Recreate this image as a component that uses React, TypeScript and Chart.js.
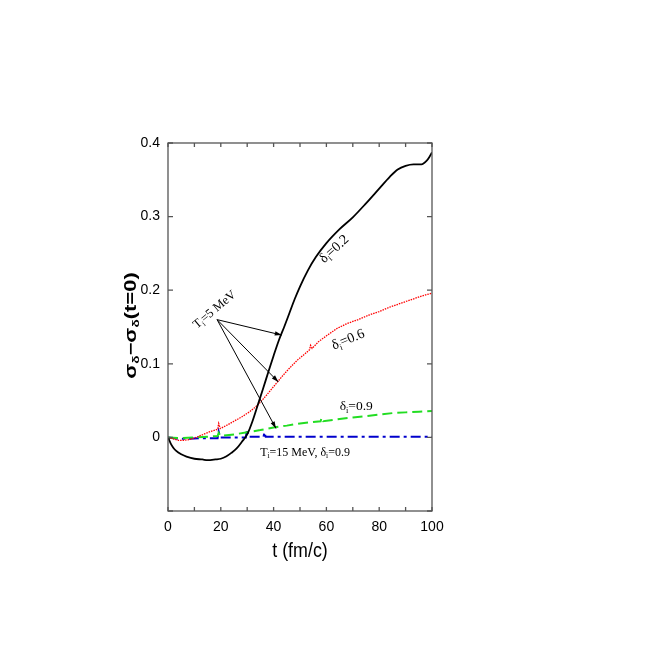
import React, { useEffect, useRef } from 'react';
import { Chart, registerables } from 'chart.js';
Chart.register(...registerables);

// delta_i = 0.2, T_i = 5 MeV (black, solid)
const tBlack = [0, 1, 2, 3, 5, 7, 10, 13, 15, 18, 20, 22, 24, 26, 28, 30, 32, 34, 36, 38, 40, 42, 44, 46, 48, 50, 53, 56, 60, 65, 70, 75, 80, 84, 87, 90, 93, 96, 98, 99, 100];
const yBlack = [0, -0.008, -0.014, -0.018, -0.023, -0.026, -0.029, -0.030, -0.031, -0.030, -0.029, -0.026, -0.021, -0.015, -0.006, 0.004, 0.022, 0.044, 0.066, 0.089, 0.111, 0.132, 0.150, 0.169, 0.188, 0.205, 0.227, 0.245, 0.264, 0.283, 0.299, 0.318, 0.338, 0.354, 0.364, 0.369, 0.371, 0.371, 0.376, 0.381, 0.387];

// delta_i = 0.6, T_i = 5 MeV (red, dotted)
const tRed = [0, 2, 4, 6, 8, 10, 12, 14, 16, 18, 18.8, 19.2, 19.8, 22, 25, 28, 31, 34, 37, 40, 43, 46, 49, 52, 53.6, 54, 54.6, 57, 60, 64, 68, 72, 76, 80, 84, 88, 92, 96, 100];
const yRed = [0, -0.002, -0.004, -0.004, -0.003, -0.001, 0.002, 0.005, 0.008, 0.010, 0.011, 0.019, 0.012, 0.016, 0.022, 0.028, 0.035, 0.044, 0.056, 0.069, 0.082, 0.094, 0.105, 0.114, 0.119, 0.125, 0.121, 0.130, 0.138, 0.148, 0.155, 0.160, 0.166, 0.171, 0.177, 0.182, 0.187, 0.192, 0.196];

// delta_i = 0.9, T_i = 5 MeV (green, dashed)
const tGreen = [0, 5, 10, 15, 18.8, 19.2, 19.8, 25, 30, 35, 40, 45, 50, 55, 57.8, 58.2, 58.8, 65, 70, 75, 80, 85, 90, 95, 100];
const yGreen = [0, -0.001, 0, 0.001, 0.002, 0.006, 0.002, 0.004, 0.007, 0.010, 0.0135, 0.016, 0.019, 0.021, 0.022, 0.027, 0.022, 0.025, 0.027, 0.029, 0.031, 0.033, 0.034, 0.035, 0.036];

// T_i = 15 MeV, delta_i = 0.9 (blue, dash-dot)
const tBlue = [0, 4, 8, 12, 18.8, 19.2, 19.8, 25, 29.5, 29.9, 30.5, 36.2, 36.5, 37.0, 50, 60, 70, 80, 90, 100];
const yBlue = [0, -0.002, -0.002, -0.001, -0.001, 0.008, 0.000, 0.000, 0.000, 0.011, 0.001, 0.001, 0.007, 0.001, 0.001, 0.001, 0.001, 0.001, 0.001, 0.001];

const xMin = 0, xMax = 100, xStep = 20;
const yMin = -0.1, yMax = 0.4, yStep = 0.1;

type Seg = { t: string; sub?: boolean };

function drawRich(ctx: CanvasRenderingContext2D, x: number, y: number, angle: number, segs: Seg[], family: string, size: number, weight = 'normal', sx = 1, sy = 1) {
  ctx.save();
  ctx.translate(x, y);
  ctx.rotate(angle);
  ctx.scale(sx, sy);
  const subSize = size * 0.62;
  let w = 0;
  const widths: number[] = [];
  for (const s of segs) {
    ctx.font = `${weight} ${s.sub ? subSize : size}px ${family}`;
    const m = ctx.measureText(s.t).width;
    widths.push(m);
    w += m;
  }
  let cx = -w / 2;
  ctx.fillStyle = '#000';
  ctx.textBaseline = 'alphabetic';
  ctx.textAlign = 'left';
  segs.forEach((s, i) => {
    ctx.font = `${weight} ${s.sub ? subSize : size}px ${family}`;
    ctx.fillText(s.t, cx, s.sub ? size * 0.22 : 0);
    cx += widths[i];
  });
  ctx.restore();
}

export default function App() {
  const ref = useRef<HTMLCanvasElement>(null);
  useEffect(() => {
    const ctx = ref.current!.getContext('2d')!;
    const pts = (t: number[], y: number[]) => t.map((v, i) => ({ x: v, y: y[i] }));

    const overlay = {
      id: 'overlay',
      afterDraw(chart: any) {
        const c: CanvasRenderingContext2D = chart.ctx;
        const xs = chart.scales.x, ys = chart.scales.y;
        const X = (v: number) => xs.getPixelForValue(v);
        const Y = (v: number) => ys.getPixelForValue(v);
        const a = chart.chartArea;
        c.save();
        // frame
        c.strokeStyle = '#555';
        c.lineWidth = 1.3;
        c.strokeRect(a.left, a.top, a.right - a.left, a.bottom - a.top);
        // inward ticks
        c.beginPath();
        for (let t = xMin; t <= xMax + 1e-9; t += 10) {
          const px = X(t);
          c.moveTo(px, a.bottom); c.lineTo(px, a.bottom - 4);
          c.moveTo(px, a.top); c.lineTo(px, a.top + 4);
        }
        for (let k = 0; k <= Math.round((yMax - yMin) / yStep); k++) {
          const py = Y(yMin + k * yStep);
          c.moveTo(a.left, py); c.lineTo(a.left + 5, py);
          c.moveTo(a.right, py); c.lineTo(a.right - 5, py);
        }
        c.stroke();

        // arrows from T_i=5 MeV label
        const origin = [18.6, 0.160];
        const targets = [[43.1, 0.139], [41.8, 0.0754], [40.9, 0.0122]];
        c.strokeStyle = '#000';
        c.fillStyle = '#000';
        c.lineWidth = 1;
        for (const tg of targets) {
          const x0 = X(origin[0]), y0 = Y(origin[1]);
          const x1 = X(tg[0]), y1 = Y(tg[1]);
          c.beginPath(); c.moveTo(x0, y0); c.lineTo(x1, y1); c.stroke();
          const ang = Math.atan2(y1 - y0, x1 - x0);
          const L = 7, W = 2.2;
          c.beginPath();
          c.moveTo(x1, y1);
          c.lineTo(x1 - L * Math.cos(ang) + W * Math.sin(ang), y1 - L * Math.sin(ang) - W * Math.cos(ang));
          c.lineTo(x1 - L * Math.cos(ang) - W * Math.sin(ang), y1 - L * Math.sin(ang) + W * Math.cos(ang));
          c.closePath(); c.fill();
        }

        const serif = '"Liberation Serif", "DejaVu Serif", serif';
        const sans = '"Liberation Sans", Arial, sans-serif';
        const deg = Math.PI / 180;
        drawRich(c, X(18.5), Y(0.170), -40 * deg, [{ t: 'T' }, { t: 'i', sub: true }, { t: '=5 MeV' }], serif, 12.5);
        drawRich(c, X(63.9), Y(0.252), -42 * deg, [{ t: 'δ' }, { t: 'i', sub: true }, { t: '=0.2' }], serif, 14);
        drawRich(c, X(68.8), Y(0.128), -22 * deg, [{ t: 'δ' }, { t: 'i', sub: true }, { t: '=0.6' }], serif, 14);
        drawRich(c, X(71.3), Y(0.037), 0, [{ t: 'δ' }, { t: 'i', sub: true }, { t: '=0.9' }], serif, 13.5);
        drawRich(c, X(51.9), Y(-0.025), 0, [{ t: 'T' }, { t: 'i', sub: true }, { t: '=15 MeV, δ' }, { t: 'i', sub: true }, { t: '=0.9' }], serif, 12);

        // axis titles
        drawRich(c, (a.left + a.right) / 2, a.bottom + 46, 0, [{ t: 't (fm/c)' }], sans, 21, 'normal', 0.85, 1);
        drawRich(c, a.left - 32, Y(0.152), -Math.PI / 2, [{ t: 'σ' }, { t: 'δ', sub: true }, { t: '−σ' }, { t: 'δ', sub: true }, { t: '(t=0)' }], sans, 22, 'bold', 1, 0.72);
        c.restore();
      },
    };

    const chart = new Chart(ctx, {
      type: 'line',
      data: {
        datasets: [
          { data: pts(tBlack, yBlack), borderColor: '#000', borderWidth: 1.8, pointRadius: 0, cubicInterpolationMode: 'monotone', fill: false },
          { data: pts(tRed, yRed), borderColor: '#ff0000', borderWidth: 1.3, borderDash: [1.5, 1], pointRadius: 0, fill: false },
          { data: pts(tGreen, yGreen), borderColor: '#22dd22', borderWidth: 2, borderDash: [10, 5], pointRadius: 0, fill: false },
          { data: pts(tBlue, yBlue), borderColor: '#0000cc', borderWidth: 2, borderDash: [10, 4, 3, 4], pointRadius: 0, fill: false },
        ],
      },
      options: {
        animation: false,
        responsive: false,
        events: [],
        plugins: { legend: { display: false }, tooltip: { enabled: false } },
        layout: { padding: { left: 108, right: 222, top: 143, bottom: 103 } },
        scales: {
          x: {
            type: 'linear', min: xMin, max: xMax,
            ticks: { stepSize: xStep, color: '#000', padding: 8, maxRotation: 0, font: { family: '"Liberation Sans", Arial, sans-serif', size: 14 } },
            grid: { display: false, drawTicks: false }, border: { display: false },
            afterFit: (s: any) => { s.height = 40; },
          },
          y: {
            type: 'linear', min: yMin, max: yMax,
            ticks: {
              stepSize: yStep, color: '#000', padding: 8,
              font: { family: '"Liberation Sans", Arial, sans-serif', size: 14 },
              callback: (v: any) => (Number(v) < -0.05 ? '' : String(Number(Number(v).toFixed(1)))),
            },
            grid: { display: false, drawTicks: false }, border: { display: false },
            afterFit: (s: any) => { s.width = 60; },
          },
        },
      },
      plugins: [overlay],
    } as any);
    return () => chart.destroy();
  }, []);
  return (
    <div style={{ position: 'fixed', left: 0, top: 0, width: 654, height: 654, background: '#fff' }}>
      <canvas ref={ref} width={654} height={654} style={{ width: 654, height: 654, display: 'block' }} />
    </div>
  );
}
